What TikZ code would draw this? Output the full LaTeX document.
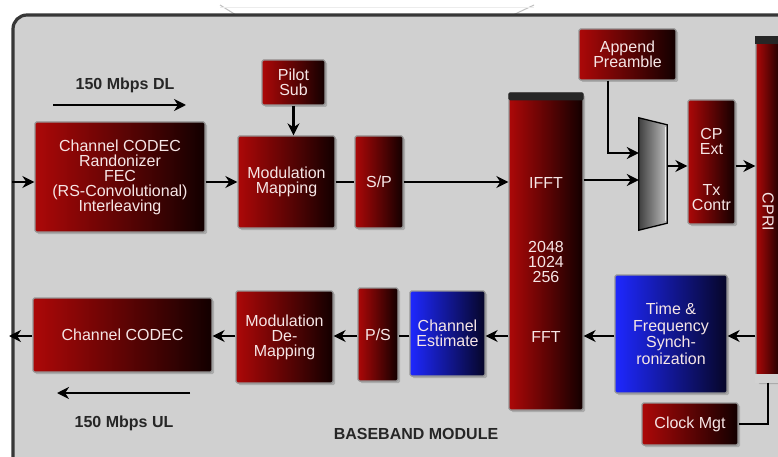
\documentclass[tikz,border=0pt]{standalone}
\usepackage{fontspec}
\setmainfont{Liberation Sans}
\usetikzlibrary{arrows.meta,shadows,calc}
\definecolor{panelbg}{RGB}{208,208,208}
\definecolor{panelline}{RGB}{55,55,55}
\definecolor{redL}{RGB}{172,8,8}
\definecolor{redR}{RGB}{18,0,0}
\definecolor{blueL}{RGB}{30,40,255}
\definecolor{blueR}{RGB}{6,6,40}
\definecolor{boxtext}{RGB}{246,230,230}
\definecolor{boxedge}{RGB}{150,150,150}
\begin{document}
\begin{tikzpicture}[x=1pt,y=-1pt,
  box/.style={draw=boxedge, line width=1.3pt, rounded corners=1.5pt, inner sep=0pt,
    align=center, text=boxtext, font=\fontsize{16}{15}\selectfont,
    drop shadow={shadow xshift=2pt,shadow yshift=-2pt,opacity=0.45}},
  redbox/.style={box, left color=redL, right color=redR},
  bluebox/.style={box, left color=blueL, right color=blueR},
  arr/.style={line width=2.8pt, -{Stealth[length=12pt,width=12pt]}},
  ln/.style={line width=2.8pt},
  lbl/.style={font=\bfseries\fontsize{16}{16}\selectfont, text=black!85},
  intext/.style={align=center, text=boxtext, font=\fontsize{16}{15}\selectfont, inner sep=0pt}
]
\useasboundingbox (0,0) rectangle (778,457);
\clip (0,0) rectangle (778,457);
\fill[white] (0,0) rectangle (778,457);
% faint outline above panel
\draw[gray!50, line width=1pt] (220,5) -- (236,15);
\draw[gray!50, line width=1pt] (534,5) -- (513,15);
\draw[gray!15, line width=0.8pt] (220,7) -- (534,7);
% panel
\draw[panelline, fill=panelbg, line width=3.2pt, rounded corners=14pt] (13,15) rectangle (795,470);

% top row
\node[redbox, minimum width=170, minimum height=110] (codec1) at (120,177)
  {Channel CODEC\\Randonizer\\FEC\\(RS-Convolutional)\\Interleaving};
\node[redbox, minimum width=63, minimum height=45] (pilot) at (293.5,82.5) {Pilot\\Sub};
\node[redbox, minimum width=97, minimum height=92] (modmap) at (286.5,182) {Modulation\\Mapping};
\node[redbox, minimum width=48, minimum height=92] (sp) at (379,182) {S/P};
\node[redbox, minimum width=74, minimum height=317] (ifft) at (546,251.5) {};
\fill[black!85, rounded corners=1.5pt] (ifft.north west) rectangle ([yshift=-8pt]ifft.north east);
\node[intext] (ifftt) at (546,183) {IFFT};
\node[intext] (sizes) at (546,262) {2048\\1024\\256};
\node[intext] (fftt) at (546,337) {FFT};
\node[redbox, minimum width=97, minimum height=51] (app) at (627.5,54.5) {Append\\Preamble};
\node[inner sep=0pt, minimum width=28, minimum height=112] (mux) at (653,174) {};
\draw[black, line width=1.3pt, left color=black!75, right color=black!25]
  (mux.north west) -- ([yshift=-7pt]mux.north east) -- ([yshift=7pt]mux.south east) -- (mux.south west) -- cycle;
\draw[white!85!gray, line width=1pt] ([xshift=-2pt,yshift=-9pt]mux.north east) -- ([xshift=-2pt,yshift=9pt]mux.south east);
\node[redbox, minimum width=47, minimum height=124] (cp) at (711.5,162) {};
\node[intext] (cpt) at (711.5,141) {CP\\Ext};
\node[intext] (txt) at (711.5,198) {Tx\\Contr};
\node[redbox, minimum width=26, minimum height=345] (cpri) at (769,209.5) {};
\fill[black!85] (cpri.north west) rectangle ([yshift=-8pt]cpri.north east);
\fill[gray!35] ([yshift=9pt]cpri.south west) rectangle (cpri.south east);
\node[intext, rotate=-90] (cprit) at (768,212) {CPRI};

% bottom row
\node[bluebox, minimum width=112, minimum height=118, font=\fontsize{16}{16.5}\selectfont] (tfs) at (671,334)
  {Time \&\\Frequency\\Synch-\\ronization};
\node[redbox, minimum width=96, minimum height=42] (clock) at (690,424) {Clock Mgt};
\node[bluebox, minimum width=75, minimum height=85] (chest) at (447.5,333.5) {Channel\\Estimate};
\node[redbox, minimum width=40, minimum height=93] (ps) at (378,334.5) {P/S};
\node[redbox, minimum width=97, minimum height=92] (demap) at (284.5,337) {Modulation\\De-\\Mapping};
\node[redbox, minimum width=179, minimum height=74] (codec2) at (122.5,335) {Channel CODEC};

% labels
\node[lbl] (dl) at (125,85) {150 Mbps DL};
\node[lbl] (ul) at (124,423) {150 Mbps UL};
\node[lbl] (bb) at (416,434) {BASEBAND MODULE};
\coordinate (dla) at (53,105);
\coordinate (dlb) at (186,105);
\coordinate (ula) at (190,393);
\coordinate (ulb) at (57,393);
\draw[arr] (dla) -- (dlb);
\draw[arr] (ula) -- (ulb);

% rows
\coordinate (rowA) at (0,182);
\coordinate (rowB) at (0,336);
\coordinate (rowC) at (0,166);
\coordinate (inp) at (12,182);
\coordinate (outp) at (9,336);

\draw[arr] (inp) -- (codec1.west |- rowA);
\draw[arr] (codec1.east |- rowA) -- (modmap.west |- rowA);
\draw[arr] (pilot.south) -- (pilot.south |- modmap.north);
\draw[ln] (modmap.east |- rowA) -- (sp.west |- rowA);
\draw[arr] (sp.east |- rowA) -- (ifft.west |- rowA);
\draw[arr] ([yshift=2pt]ifft.east |- rowA) -- ([yshift=2pt]mux.west |- rowA);
\draw[arr] ([xshift=-19.5pt]app.south) |- ([yshift=21pt]mux.west);
\draw[arr] (mux.east |- rowC) -- (cp.west |- rowC);
\draw[arr] (cp.east |- rowC) -- (cpri.west |- rowC);

\draw[arr] (cpri.west |- rowB) -- (tfs.east |- rowB);
\draw[arr] (tfs.west |- rowB) -- (ifft.east |- rowB);
\draw[arr] (ifft.west |- rowB) -- (chest.east |- rowB);
\draw[ln] (chest.west |- rowB) -- (ps.east |- rowB);
\draw[arr] (ps.west |- rowB) -- (demap.east |- rowB);
\draw[arr] (demap.west |- rowB) -- (codec2.east |- rowB);
\draw[arr] (codec2.west |- rowB) -- (outp);
\draw[ln] ([xshift=-1pt]cpri.south) |- (clock.east);
\end{tikzpicture}
\end{document}
